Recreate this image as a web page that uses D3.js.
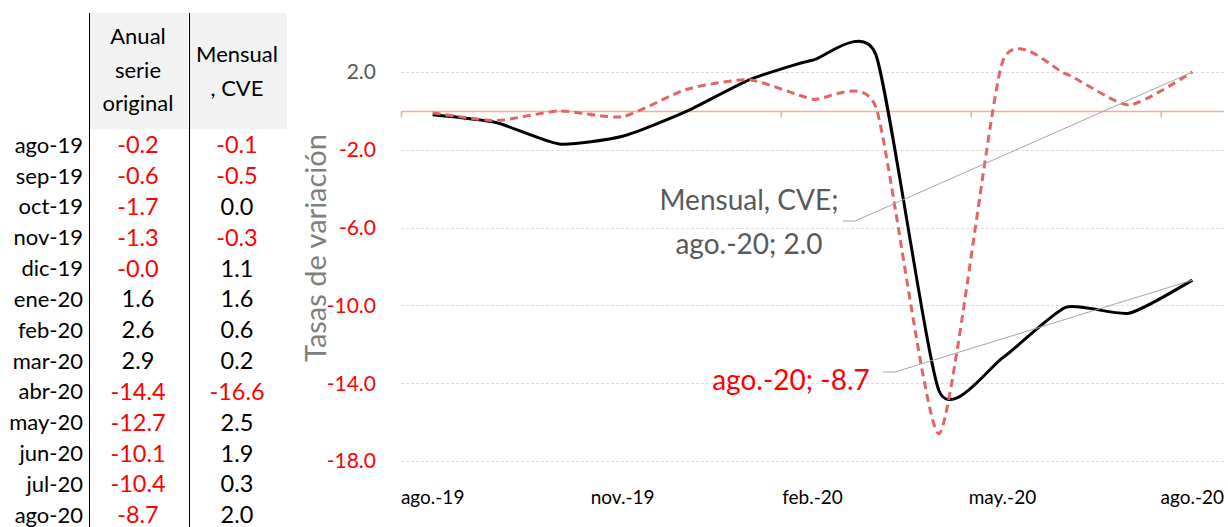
<!DOCTYPE html>
<html lang="es">
<head>
<meta charset="utf-8">
<title>Tasas de variación</title>
<script src="https://d3js.org/d3.v7.min.js"></script>
<style>
  body { margin: 0; background: #fff; }
  svg { display: block; font-family: Lato, "Noto Sans", sans-serif; }
</style>
</head>
<body>
<script>
// datos
const meses = ["ago-19","sep-19","oct-19","nov-19","dic-19","ene-20","feb-20","mar-20","abr-20","may-20","jun-20","jul-20","ago-20"];
const anual = [-0.2, -0.6, -1.7, -1.3, -0.04, 1.6, 2.6, 2.9, -14.4, -12.7, -10.1, -10.4, -8.7];
const mensual = [-0.1, -0.5, 0.0, -0.3, 1.1, 1.6, 0.6, 0.2, -16.6, 2.5, 1.9, 0.3, 2.0];
const xTickIdx = [0, 3, 6, 9, 12];
const xTickLabels = ["ago.-19", "nov.-19", "feb.-20", "may.-20", "ago.-20"];
const yTicks = [2, -2, -6, -10, -14, -18];

const width = 1228, height = 527;
const svg = d3.select("body").append("svg")
  .attr("width", width).attr("height", height);

const red = "#ff0000";
const fmt = v => v.toFixed(1);

// ---- tabla ----
const rowY = d3.scalePoint().domain(meses).range([145, 515]);
const col1 = 138, col2 = 237;

svg.append("rect").attr("x", 90).attr("y", 13).attr("width", 98).attr("height", 116).attr("fill", "#f2f2f2");
svg.append("rect").attr("x", 190).attr("y", 13).attr("width", 97).attr("height", 116).attr("fill", "#f2f2f2");
svg.append("line").attr("x1", 89.5).attr("x2", 89.5).attr("y1", 13).attr("y2", height).attr("stroke", "#000");
svg.append("line").attr("x1", 189.5).attr("x2", 189.5).attr("y1", 13).attr("y2", height).attr("stroke", "#000");

const head = svg.append("g").attr("font-size", 22).attr("fill", "#000").attr("text-anchor", "middle");
["Anual", "serie", "original"].forEach((t, i) =>
  head.append("text").attr("x", col1).attr("y", 44 + i * 33.5).text(t));
["Mensual", ", CVE"].forEach((t, i) =>
  head.append("text").attr("x", col2).attr("y", 62 + i * 33.5).text(t));

const rows = svg.append("g").attr("font-size", 22);
rows.selectAll("text.lab").data(meses).join("text")
  .attr("class", "lab")
  .attr("x", 83).attr("y", d => rowY(d)).attr("dy", "0.35em")
  .attr("text-anchor", "end").attr("fill", "#000")
  .text(d => d);
rows.selectAll("text.a").data(anual).join("text")
  .attr("class", "a").attr("font-size", 23.5)
  .attr("x", col1).attr("y", (d, i) => rowY(meses[i])).attr("dy", "0.35em")
  .attr("text-anchor", "middle").attr("fill", d => d < 0 ? red : "#000")
  .text(fmt);
rows.selectAll("text.m").data(mensual).join("text")
  .attr("class", "m").attr("font-size", 23.5)
  .attr("x", col2).attr("y", (d, i) => rowY(meses[i])).attr("dy", "0.35em")
  .attr("text-anchor", "middle").attr("fill", d => d < 0 ? red : "#000")
  .text(fmt);

// ---- grafico ----
const x = d3.scaleBand().domain(meses).range([401, 1224]);
const cx = d => x(d) + x.bandwidth() / 2;
const y = d3.scaleLinear().domain([-18, 2]).range([461, 72]);

// rejilla
svg.append("g").selectAll("line").data(yTicks).join("line")
  .attr("x1", 401).attr("x2", 1224)
  .attr("y1", d => Math.round(y(d)) + 0.5).attr("y2", d => Math.round(y(d)) + 0.5)
  .attr("stroke", "#dcdcdc").attr("stroke-dasharray", "3,2");

// etiquetas eje y
svg.append("g").attr("font-size", 21).selectAll("text").data(yTicks).join("text")
  .attr("x", 376).attr("y", d => y(d)).attr("dy", "0.35em")
  .attr("text-anchor", "end")
  .attr("fill", d => d < 0 ? red : "#595959")
  .text(fmt);

svg.append("text")
  .attr("transform", `translate(326,248) rotate(-90)`)
  .attr("text-anchor", "middle").attr("font-size", 29).attr("fill", "#7f7f7f")
  .text("Tasas de variación");

// eje cero
const y0 = Math.round(y(0)) + 0.5;
svg.append("line").attr("x1", 401).attr("x2", 1224).attr("y1", y0).attr("y2", y0)
  .attr("stroke", "#f4b183").attr("stroke-width", 1.5);
svg.append("g").selectAll("line").data(xTickIdx).join("line")
  .attr("x1", i => x(meses[i]) + 0.5).attr("x2", i => x(meses[i]) + 0.5)
  .attr("y1", y0).attr("y2", y0 + 6)
  .attr("stroke", "#f4b183").attr("stroke-width", 1.5);

// etiquetas eje x
svg.append("g").attr("font-size", 19).selectAll("text").data(xTickIdx).join("text")
  .attr("x", i => cx(meses[i])).attr("y", 497).attr("dy", "0.35em")
  .attr("text-anchor", "middle").attr("fill", "#000")
  .text((i, k) => xTickLabels[k]);

// lineas (suavizadas)
const line = d3.line()
  .x((d, i) => cx(meses[i]))
  .y(d => y(d))
  .curve(d3.curveCardinal.tension(0.42));

svg.append("path").datum(anual).attr("d", line)
  .attr("fill", "none").attr("stroke", "#000").attr("stroke-width", 3);
svg.append("path").datum(mensual).attr("d", line)
  .attr("fill", "none").attr("stroke", "#e06666").attr("stroke-width", 3)
  .attr("stroke-dasharray", "8,5");

// etiquetas de datos
const last = meses.length - 1;
const pM = [cx(meses[last]), y(mensual[last])];
const pA = [cx(meses[last]), y(anual[last])];

svg.append("polyline")
  .attr("points", `843,221 855,221 ${pM[0]},${pM[1]}`)
  .attr("fill", "none").attr("stroke", "#a6a6a6").attr("stroke-width", 1);
svg.append("polyline")
  .attr("points", `883,372 895,372 ${pA[0]},${pA[1]}`)
  .attr("fill", "none").attr("stroke", "#a6a6a6").attr("stroke-width", 1);

const lab = svg.append("g").attr("font-size", 28).attr("text-anchor", "middle");
lab.append("text").attr("x", 749).attr("y", 210).attr("fill", "#595959").text("Mensual, CVE;");
lab.append("text").attr("x", 749).attr("y", 254).attr("fill", "#595959")
  .text(`${meses[last].replace("-", ".-")}; ${fmt(mensual[last])}`);
lab.append("text").attr("x", 791).attr("y", 390).attr("fill", red)
  .text(`${meses[last].replace("-", ".-")}; ${fmt(anual[last])}`);
</script>
</body>
</html>
